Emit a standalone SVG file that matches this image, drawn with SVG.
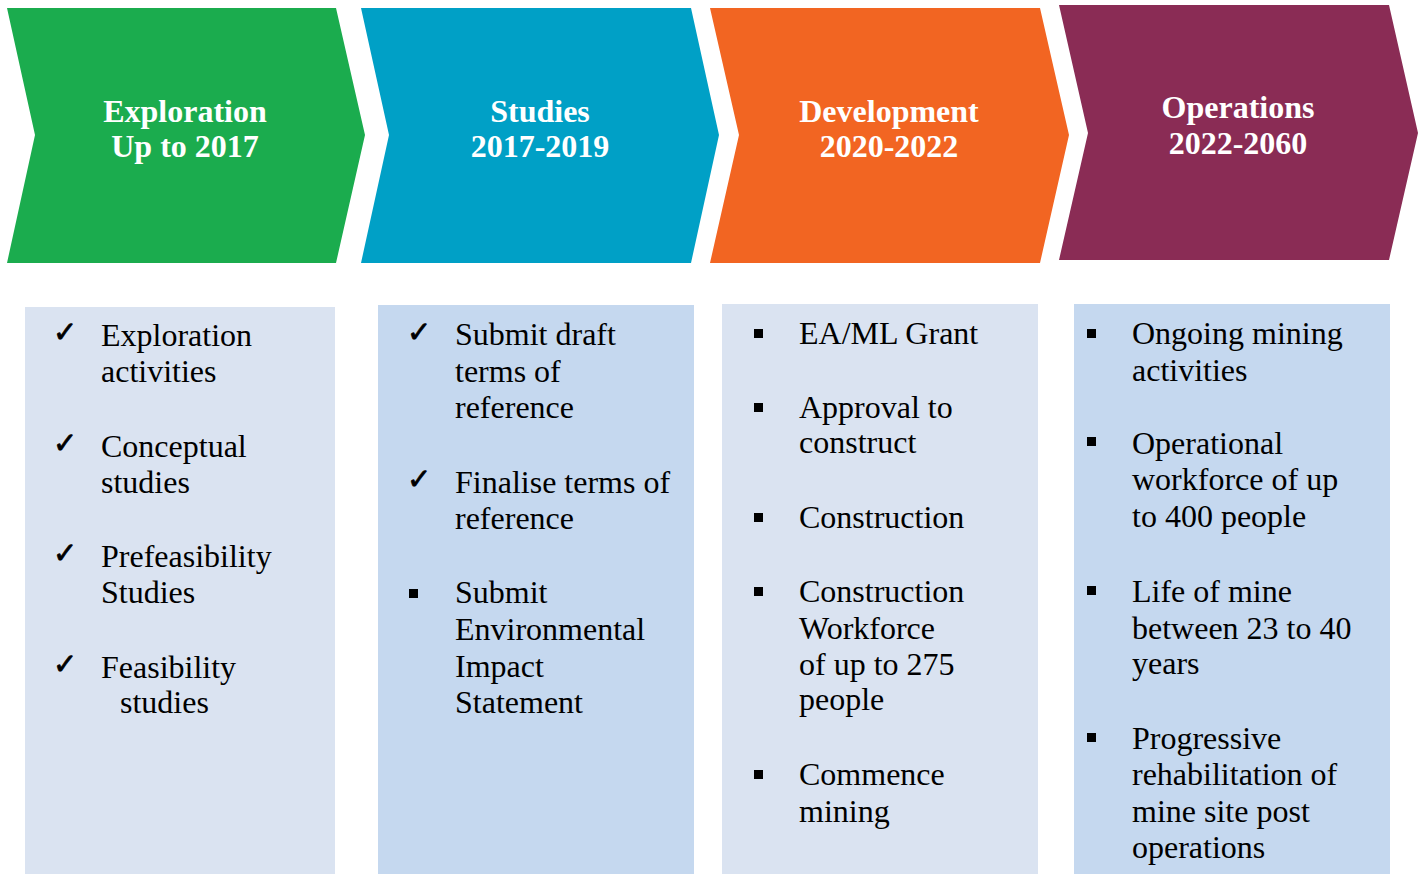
<svg xmlns="http://www.w3.org/2000/svg" width="1420" height="874" viewBox="0 0 1420 874">
<style>
.hd{font-family:"Liberation Serif","Times New Roman",serif;font-size:32px;font-weight:bold;fill:#fff;text-anchor:middle}
.tx{font-family:"Liberation Serif","Times New Roman",serif;font-size:32px;fill:#000}
.ck{font-family:"DejaVu Sans",sans-serif;font-size:29px;fill:#000;stroke:#000;stroke-width:0.8}
.light{fill:#DAE3F1}
.mid{fill:#C5D8EF}
</style>
<rect width="1420" height="874" fill="#fff"/>
<g id="phase-exploration">
<polygon points="7,8 336,8 365,135 336,263 7,263 35,135" fill="#1BAC4E"/>
<text class="hd" x="185" y="122">Exploration</text>
<text class="hd" x="185" y="157">Up to 2017</text>
</g>
<g id="phase-studies">
<polygon points="361,8 691,8 719,135 691,263 361,263 389,135" fill="#00A0C6"/>
<text class="hd" x="540" y="122">Studies</text>
<text class="hd" x="540" y="157">2017-2019</text>
</g>
<g id="phase-development">
<polygon points="710,8 1040,8 1069,135 1040,263 710,263 739,135" fill="#F26522"/>
<text class="hd" x="889" y="122">Development</text>
<text class="hd" x="889" y="157">2020-2022</text>
</g>
<g id="phase-operations">
<polygon points="1059,5 1389,5 1418,133 1389,260 1059,260 1088,133" fill="#8A2C55"/>
<text class="hd" x="1238" y="118">Operations</text>
<text class="hd" x="1238" y="154">2022-2060</text>
</g>
<g id="connectors"></g>
<g id="box-exploration">
<rect class="light" x="25" y="307" width="310" height="567"/>
<text class="ck" x="53" y="342">✓</text>
<text class="tx" x="101" y="346">Exploration</text>
<text class="tx" x="101" y="382">activities</text>
<text class="ck" x="53" y="453">✓</text>
<text class="tx" x="101" y="457">Conceptual</text>
<text class="tx" x="101" y="493">studies</text>
<text class="ck" x="53" y="563">✓</text>
<text class="tx" x="101" y="567">Prefeasibility</text>
<text class="tx" x="101" y="603">Studies</text>
<text class="ck" x="53" y="674">✓</text>
<text class="tx" x="101" y="678">Feasibility</text>
<text class="tx" x="120" y="713">studies</text>
</g>
<g id="box-studies">
<rect class="mid" x="378" y="305" width="316" height="569"/>
<text class="ck" x="407" y="342">✓</text>
<text class="tx" x="455" y="345">Submit draft</text>
<text class="tx" x="455" y="382">terms of</text>
<text class="tx" x="455" y="418">reference</text>
<text class="ck" x="407" y="489">✓</text>
<text class="tx" x="455" y="493">Finalise terms of</text>
<text class="tx" x="455" y="529">reference</text>
<rect x="409" y="589" width="9" height="9" fill="#000"/>
<text class="tx" x="455" y="603">Submit</text>
<text class="tx" x="455" y="640">Environmental</text>
<text class="tx" x="455" y="677">Impact</text>
<text class="tx" x="455" y="713">Statement</text>
</g>
<g id="box-development">
<rect class="light" x="722" y="304" width="316" height="570"/>
<rect x="754" y="329" width="9" height="9" fill="#000"/>
<text class="tx" x="799" y="344">EA/ML Grant</text>
<rect x="754" y="403" width="9" height="9" fill="#000"/>
<text class="tx" x="799" y="418">Approval to</text>
<text class="tx" x="799" y="453">construct</text>
<rect x="754" y="513" width="9" height="9" fill="#000"/>
<text class="tx" x="799" y="528">Construction</text>
<rect x="754" y="587" width="9" height="9" fill="#000"/>
<text class="tx" x="799" y="602">Construction</text>
<text class="tx" x="799" y="639">Workforce</text>
<text class="tx" x="799" y="675">of up to 275</text>
<text class="tx" x="799" y="710">people</text>
<rect x="754" y="770" width="9" height="9" fill="#000"/>
<text class="tx" x="799" y="785">Commence</text>
<text class="tx" x="799" y="822">mining</text>
</g>
<g id="box-operations">
<rect class="mid" x="1074" y="304" width="316" height="570"/>
<rect x="1087" y="329" width="9" height="9" fill="#000"/>
<text class="tx" x="1132" y="344">Ongoing mining</text>
<text class="tx" x="1132" y="381">activities</text>
<rect x="1087" y="437" width="9" height="9" fill="#000"/>
<text class="tx" x="1132" y="454">Operational</text>
<text class="tx" x="1132" y="490">workforce of up</text>
<text class="tx" x="1132" y="527">to 400 people</text>
<rect x="1087" y="586" width="9" height="9" fill="#000"/>
<text class="tx" x="1132" y="602">Life of mine</text>
<text class="tx" x="1132" y="639">between 23 to 40</text>
<text class="tx" x="1132" y="674">years</text>
<rect x="1087" y="733" width="9" height="9" fill="#000"/>
<text class="tx" x="1132" y="749">Progressive</text>
<text class="tx" x="1132" y="785">rehabilitation of</text>
<text class="tx" x="1132" y="822">mine site post</text>
<text class="tx" x="1132" y="858">operations</text>
</g>
</svg>
